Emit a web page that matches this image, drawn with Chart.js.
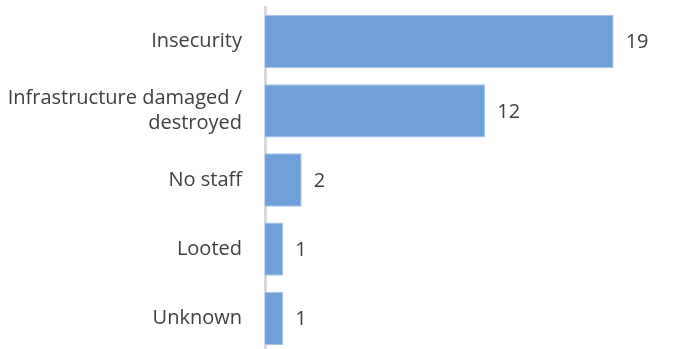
<!DOCTYPE html>
<html>
<head>
<meta charset="utf-8">
<script src="https://cdn.jsdelivr.net/npm/chart.js@4.4.1/dist/chart.umd.min.js"></script>
<style>
    html, body { margin: 0; padding: 0; background: #fff; overflow: hidden; }
    #wrap { width: 676px; height: 353px; }
</style>
</head>
<body>
<div id="wrap"><canvas id="chart_reasons"></canvas></div>
<script>
const categories = ["Insecurity", ["Infrastructure damaged /", "destroyed"], "No staff", "Looted", "Unknown"];
const counts = [19, 12, 2, 1, 1];
const xMax = 20;

const textColor = "#404040";
const fontFamily = "'Open Sans', 'Noto Sans', sans-serif";

// draws the count just past the end of each bar
const valueLabels = {
    id: "valueLabels",
    afterDatasetsDraw(chart) {
        let ctx = chart.ctx;
        let meta = chart.getDatasetMeta(0);
        ctx.save();
        ctx.font = "20px " + fontFamily;
        ctx.fillStyle = textColor;
        ctx.textAlign = "left";
        ctx.textBaseline = "middle";
        meta.data.forEach((bar, i) => {
            ctx.fillText(String(counts[i]), bar.x + 12, bar.y + 1);
        });
        ctx.restore();
    }
};

let ctx = document.getElementById("chart_reasons").getContext("2d");
new Chart(ctx, {
    type: "bar",
    data: {
        labels: categories,
        datasets: [{
            data: counts,
            backgroundColor: "#6fa0d8",
            borderColor: "#a6c4e8",
            borderWidth: 1,
            barPercentage: 0.77,
            categoryPercentage: 1
        }]
    },
    options: {
        indexAxis: "y",
        responsive: true,
        maintainAspectRatio: false,
        animation: false,
        layout: { padding: { top: 7, right: 44, bottom: 0, left: 0 } },
        plugins: { legend: { display: false }, tooltip: { enabled: false } },
        scales: {
            x: { display: false, min: 0, max: xMax },
            y: {
                grid: { display: false },
                border: { display: true, color: "#d9d9d9", width: 3 },
                ticks: {
                    color: textColor,
                    padding: 15,
                    font: { family: fontFamily, size: 20, lineHeight: 1.25 }
                },
                afterFit(scale) {
                    scale.width = 265;
                    scale.paddingTop = 0;
                    scale.paddingBottom = 0;
                }
            }
        }
    },
    plugins: [valueLabels]
});
</script>
</body>
</html>
